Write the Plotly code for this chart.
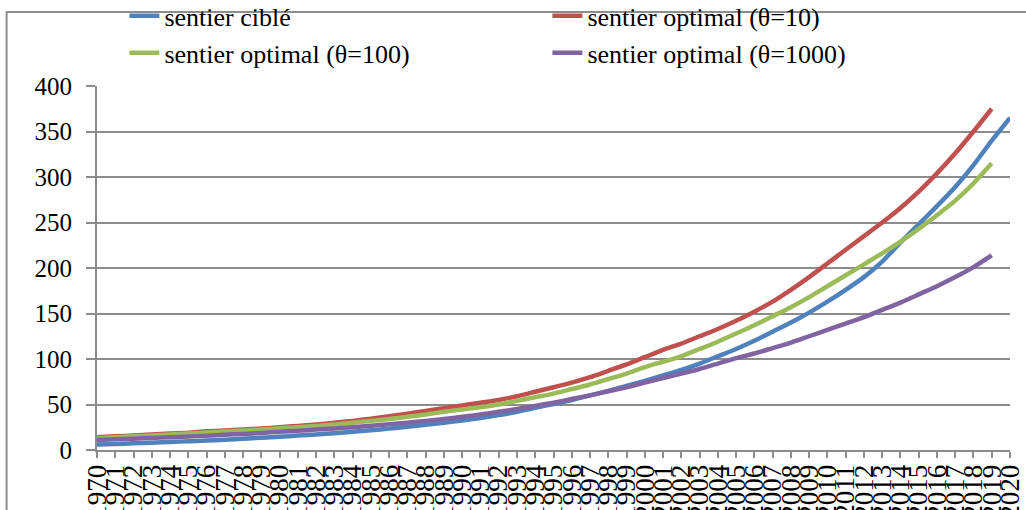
import plotly.graph_objects as go

# years on the category axis
years = list(range(1970, 2021))
year_labels = [str(y) for y in years]

# series (one value per year)
cible = [6, 6.6, 7.3, 8, 8.8, 9.6, 10.4, 11.3, 12.5, 13.5,
         14.6, 15.8, 17, 18.5, 20, 21.7, 23.5, 25.5, 27.7, 30,
         32.5, 35.2, 38.3, 42, 46.5, 50.5, 55, 60, 65, 70.5,
         76, 82, 88, 95, 103, 111, 120, 130, 140, 151,
         163, 176, 190, 207, 228, 248, 268, 289, 313, 340,
         365]
opt_10 = [14, 15, 16, 17, 18, 19, 20.5, 21.5, 22.5, 23.5,
          25, 26.5, 28, 30, 32, 34.5, 37, 40, 43, 46,
          49, 52, 55, 59, 64, 69, 74, 80, 87, 94,
          102, 110, 117, 125, 133, 142, 152, 163, 176, 190,
          205, 220, 235, 250, 266, 284, 304, 326, 350, 375]
opt_100 = [13, 14, 15, 16, 17, 18, 19.3, 20.3, 21.4, 22.5,
           23.8, 25, 26.5, 28, 30, 32, 34, 36.5, 39, 42,
           44.5, 47, 50, 54, 58, 62, 67, 72, 78, 84,
           91, 97, 103, 111, 119, 128, 137, 147, 157, 168,
           180, 192, 204, 216, 229, 243, 258, 274, 293, 315]
opt_1000 = [11, 11.7, 12.4, 13.2, 14, 14.8, 15.7, 16.7, 17.7, 18.8,
            20, 21.2, 22.4, 23.7, 25.1, 26.6, 28.2, 30, 32, 34,
            36.5, 39, 42, 45, 48.5, 52, 56, 60, 64.5, 69,
            74, 79, 84, 89, 95, 101, 106, 112, 118, 125,
            132, 139, 146, 154, 162, 171, 180, 190, 201, 214]

series = [
    ("sentier ciblé", cible, "#4F81BD"),
    ("sentier optimal (θ=10)", opt_10, "#C0504D"),
    ("sentier optimal (θ=100)", opt_100, "#9BBB59"),
    ("sentier optimal (θ=1000)", opt_1000, "#8064A2"),
]

serif = "Liberation Serif, Times New Roman, serif"
grey = "#8C8C8C"

fig = go.Figure()
for name, vals, col in series:
    fig.add_trace(go.Scatter(
        x=years[:len(vals)], y=vals,
        mode="lines", name=name,
        line=dict(color=col, width=4.5, shape="spline", smoothing=0.5),
    ))

fig.update_layout(
    width=1026, height=510,
    margin=dict(l=97, r=16, t=86, b=60, autoexpand=False),
    paper_bgcolor="white", plot_bgcolor="white",
    font=dict(family=serif, color="black"),
    showlegend=True,
    legend=dict(
        orientation="h",
        x=0.03, y=1.257, xanchor="left", yanchor="top",
        entrywidth=378, entrywidthmode="pixels",
        font=dict(size=26, family=serif),
        bgcolor="rgba(0,0,0,0)",
        traceorder="normal",
    ),
    xaxis=dict(
        range=[1970, 2020],
        tickmode="array", tickvals=years, ticktext=year_labels,
        tickangle=-90,
        tickfont=dict(size=27, family=serif),
        ticks="outside", ticklen=6, tickwidth=1.5, tickcolor=grey,
        ticklabelstandoff=-4,
        showline=True, linecolor=grey, linewidth=2,
        showgrid=False, zeroline=False, automargin=False,
    ),
    yaxis=dict(
        range=[0, 400], dtick=50,
        tickfont=dict(size=25, family=serif),
        ticks="outside", ticklen=9, tickwidth=1.5, tickcolor=grey,
        ticklabelstandoff=9,
        showline=True, linecolor=grey, linewidth=2,
        showgrid=True, gridcolor=grey, gridwidth=1.5,
        zeroline=False, automargin=False,
    ),
    # outer chart frame (cut by the crop on right and bottom)
    shapes=[dict(
        type="rect", xref="paper", yref="paper",
        x0=-0.099, x1=1.2, y0=-0.4, y1=1.203,
        line=dict(color=grey, width=2), fillcolor="rgba(0,0,0,0)",
        layer="below",
    )],
)

fig.write_html("out.html", config={"displayModeBar": False},
               post_script="document.body.style.margin='0';")
